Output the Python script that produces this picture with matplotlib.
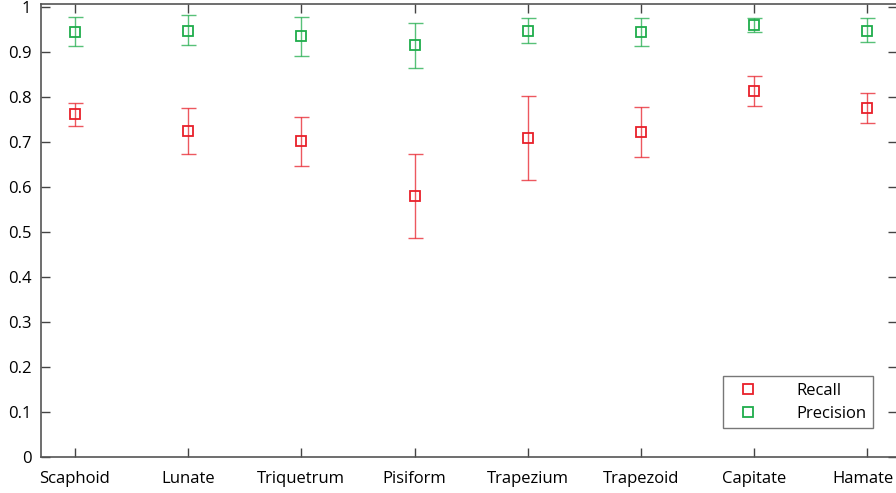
import numpy as np
import matplotlib.pyplot as plt
import matplotlib.transforms as mtransforms

plt.rcParams['font.family'] = ['Open Sans', 'DejaVu Sans']

# Carpal bones and per-bone detection scores
bones = ['Scaphoid', 'Lunate', 'Triquetrum', 'Pisiform',
         'Trapezium', 'Trapezoid', 'Capitate', 'Hamate']

recall = [0.762, 0.724, 0.702, 0.580, 0.708, 0.721, 0.813, 0.774]
recall_lo = [0.735, 0.673, 0.647, 0.487, 0.614, 0.667, 0.779, 0.742]
recall_hi = [0.787, 0.774, 0.756, 0.672, 0.801, 0.777, 0.846, 0.809]

precision = [0.943, 0.947, 0.935, 0.915, 0.947, 0.944, 0.960, 0.947]
precision_lo = [0.912, 0.914, 0.890, 0.863, 0.920, 0.912, 0.944, 0.921]
precision_hi = [0.978, 0.981, 0.978, 0.963, 0.976, 0.976, 0.976, 0.976]

red = '#e8202a'
green = '#1fac4b'

x = np.arange(1, len(bones) + 1)

fig = plt.figure(figsize=(8.96, 4.93), dpi=100)
ax = fig.add_axes([41 / 896, 36.3 / 493, 855.8 / 896, 452.7 / 493])


def draw(vals, lo, hi, col, name):
    vals = np.array(vals)
    err = [vals - np.array(lo), np.array(hi) - vals]
    ax.errorbar(x, vals, yerr=err, fmt='none', ecolor=col, elinewidth=1.0,
                capsize=5.4, capthick=1.0, alpha=0.75)
    ax.plot(x, vals, 's', ms=7, mfc='none', mec=col, mew=1.3, label=name)


draw(recall, recall_lo, recall_hi, red, 'Recall')
draw(precision, precision_lo, precision_hi, green, 'Precision')

ax.set_xlim(0.7, 8.26)
ax.set_ylim(0, 1.006)
ax.set_xticks(x)
ax.set_xticklabels(bones)
ax.set_yticks(np.arange(0, 1.01, 0.1))
ax.set_yticklabels(['0'] + ['%.1f' % v for v in np.arange(0.1, 0.95, 0.1)] + ['1'])

ax.tick_params(direction='in', length=6.5, width=1.0, color='#444444',
               top=True, right=True, labelsize=12, pad=7)
ax.tick_params(axis='x', pad=10)
for s in ax.spines.values():
    s.set_color('#555555')
    s.set_linewidth(1.2)

# nudge the last category label so it stays inside the figure
last = ax.get_xticklabels()[-1]
last.set_transform(last.get_transform() +
                   mtransforms.ScaledTranslation(-4 / 100, 0, fig.dpi_scale_trans))

leg = ax.legend(loc='lower left', bbox_to_anchor=(0.797, 0.063),
                borderaxespad=0, fontsize=12, fancybox=False,
                edgecolor='#555555', handletextpad=1.8, borderpad=0.4,
                labelspacing=0.4, handlelength=2.2)
leg.get_frame().set_linewidth(1.0)

fig.savefig('out.png', dpi=100)
